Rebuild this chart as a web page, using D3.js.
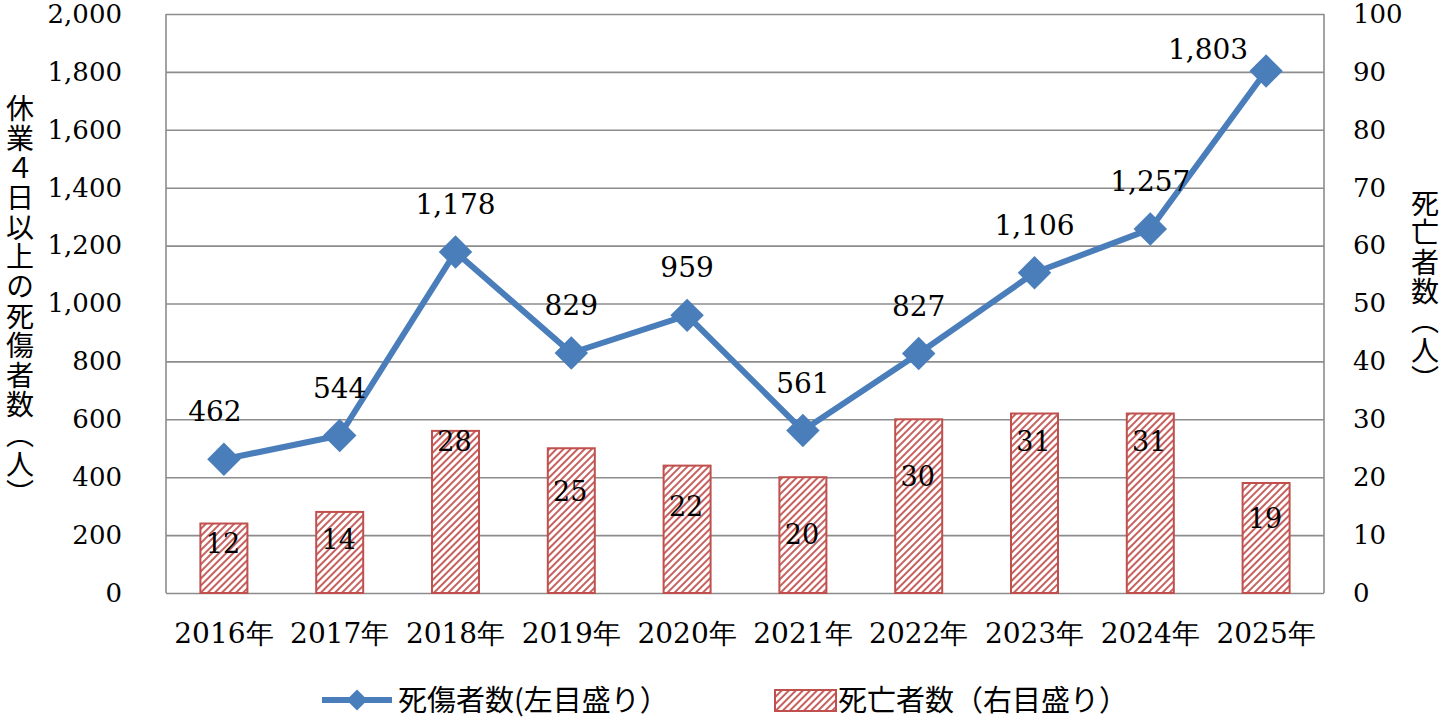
<!DOCTYPE html>
<html>
<head>
<meta charset="utf-8">
<script src="https://cdn.jsdelivr.net/npm/d3@7"></script>
<style>
  html, body { margin: 0; padding: 0; background: #fff; }
  svg { display: block; }
</style>
</head>
<body>
<svg id="chart"></svg>
<script>
// data ----------
const years = ["2016年", "2017年", "2018年", "2019年", "2020年", "2021年", "2022年", "2023年", "2024年", "2025年"];
const casualties = [462, 544, 1178, 829, 959, 561, 827, 1106, 1257, 1803];
const deaths = [12, 14, 28, 25, 22, 20, 30, 31, 31, 19];
const leftTicks = [0, 200, 400, 600, 800, 1000, 1200, 1400, 1600, 1800, 2000];
const rightTicks = [0, 10, 20, 30, 40, 50, 60, 70, 80, 90, 100];
const leftTitle = "休業４日以上の死傷者数（人）";
const rightTitle = "死亡者数（人）";
const legendLine = "死傷者数(左目盛り）";
const legendBar = "死亡者数（右目盛り）";

const W = 1446, H = 720;
const plot = { left: 166, right: 1324, top: 14, bottom: 593 };
const blue = "#4A7EBB", red = "#C0504D", grid = "#8C8C8C";
const numFont = "'DejaVu Serif', serif";
const jpFont = "'Noto Sans CJK JP', sans-serif";

const svg = d3.select("#chart").attr("width", W).attr("height", H);

// hatch pattern for the bars
svg.append("defs").append("pattern")
    .attr("id", "hatch")
    .attr("patternUnits", "userSpaceOnUse")
    .attr("width", 5)
    .attr("height", 5)
    .attr("patternTransform", "rotate(45)")
    .call(p => {
        p.append("rect").attr("width", 5).attr("height", 5).attr("fill", "#fff");
        p.append("line").attr("x1", 1).attr("y1", 0).attr("x2", 1).attr("y2", 5)
            .attr("stroke", red).attr("stroke-width", 1.8);
    });

// scales ----------
const x = d3.scaleBand().domain(years).range([plot.left, plot.right]);
const yL = d3.scaleLinear().domain([0, 2000]).range([plot.bottom, plot.top]);
const yR = d3.scaleLinear().domain([0, 100]).range([plot.bottom, plot.top]);
const cx = d => x(d) + x.bandwidth() / 2;

// left axis + gridlines
const gL = svg.append("g")
    .attr("transform", `translate(${plot.left},0)`)
    .call(d3.axisLeft(yL).tickValues(leftTicks).tickFormat(d3.format(","))
        .tickSize(-(plot.right - plot.left)).tickPadding(44));
gL.select(".domain").remove();
gL.selectAll(".tick line").attr("stroke", grid).attr("stroke-width", 1.6);
gL.selectAll(".tick text").attr("font-family", numFont).attr("font-size", 26).attr("fill", "#000");

// right axis
const gR = svg.append("g")
    .attr("transform", `translate(${plot.right},0)`)
    .call(d3.axisRight(yR).tickValues(rightTicks).tickSize(0).tickPadding(29));
gR.select(".domain").remove();
gR.selectAll(".tick text").attr("font-family", numFont).attr("font-size", 26).attr("fill", "#000");

// side borders
svg.append("g").selectAll("line")
    .data([plot.left, plot.right])
    .enter().append("line")
    .attr("x1", d => d).attr("x2", d => d)
    .attr("y1", plot.top).attr("y2", plot.bottom)
    .attr("stroke", grid).attr("stroke-width", 1.6);

// x axis labels
const gX = svg.append("g")
    .attr("transform", `translate(0,${plot.bottom})`)
    .call(d3.axisBottom(x).tickSize(0).tickPadding(30));
gX.select(".domain").remove();
gX.selectAll(".tick text").attr("font-family", numFont).attr("font-size", 28).attr("fill", "#000");

// bars ----------
const barW = 47;
svg.append("g").selectAll("rect")
    .data(deaths)
    .enter().append("rect")
    .attr("x", (d, i) => cx(years[i]) - barW / 2)
    .attr("y", d => yR(d))
    .attr("width", barW)
    .attr("height", d => plot.bottom - yR(d))
    .attr("fill", "url(#hatch)")
    .attr("stroke", red)
    .attr("stroke-width", 2);

// bar labels were placed by hand in the original, so nudge them from the bar top
const barLabelNudge = [20, 27, 10, 43, 41, 57, 57, 28, 28, 35];
svg.append("g").selectAll("text")
    .data(deaths)
    .enter().append("text")
    .attr("x", (d, i) => cx(years[i]) - 1)
    .attr("y", (d, i) => yR(d) + barLabelNudge[i])
    .attr("dy", "0.36em")
    .attr("text-anchor", "middle")
    .attr("font-family", numFont)
    .attr("font-size", 27)
    .text(d => d);

// line ----------
const line = d3.line()
    .x((d, i) => cx(years[i]))
    .y(d => yL(d));
svg.append("path")
    .datum(casualties)
    .attr("d", line)
    .attr("fill", "none")
    .attr("stroke", blue)
    .attr("stroke-width", 6)
    .attr("stroke-linejoin", "round");

const diamond = d3.symbol().type(d3.symbolSquare).size(560);
svg.append("g").selectAll("path")
    .data(casualties)
    .enter().append("path")
    .attr("d", diamond)
    .attr("transform", (d, i) => `translate(${cx(years[i])},${yL(d)}) rotate(45)`)
    .attr("fill", blue);

svg.append("g").selectAll("text")
    .data(casualties)
    .enter().append("text")
    .attr("x", (d, i) => cx(years[i]) + (i === 0 ? -9 : i === casualties.length - 1 ? -58 : 0))
    .attr("y", (d, i) => yL(d) - (i === casualties.length - 1 ? 12 : 38))
    .attr("text-anchor", "middle")
    .attr("font-family", numFont)
    .attr("font-size", 28)
    .text(d => d3.format(",")(d));

// axis titles ----------
svg.append("text")
    .attr("x", 20).attr("y", 302)
    .attr("text-anchor", "middle")
    .style("writing-mode", "vertical-rl")
    .attr("font-family", jpFont)
    .attr("font-size", 28)
    .attr("letter-spacing", 1.6)
    .text(leftTitle);

svg.append("text")
    .attr("x", 1425).attr("y", 292)
    .attr("text-anchor", "middle")
    .style("writing-mode", "vertical-rl")
    .attr("font-family", jpFont)
    .attr("font-size", 28)
    .attr("letter-spacing", 1.3)
    .text(rightTitle);

// legend ----------
const lg = svg.append("g");
lg.append("line")
    .attr("x1", 322).attr("x2", 392).attr("y1", 700).attr("y2", 700)
    .attr("stroke", blue).attr("stroke-width", 6);
lg.append("path")
    .attr("d", d3.symbol().type(d3.symbolSquare).size(220))
    .attr("transform", "translate(357,700) rotate(45)")
    .attr("fill", blue);
lg.append("text")
    .attr("x", 398).attr("y", 711)
    .attr("font-family", jpFont).attr("font-size", 29)
    .text(legendLine);
lg.append("rect")
    .attr("x", 775).attr("y", 690).attr("width", 61).attr("height", 21)
    .attr("fill", "url(#hatch)").attr("stroke", red).attr("stroke-width", 2);
lg.append("text")
    .attr("x", 838).attr("y", 711)
    .attr("font-family", jpFont).attr("font-size", 29)
    .text(legendBar);
</script>
</body>
</html>
